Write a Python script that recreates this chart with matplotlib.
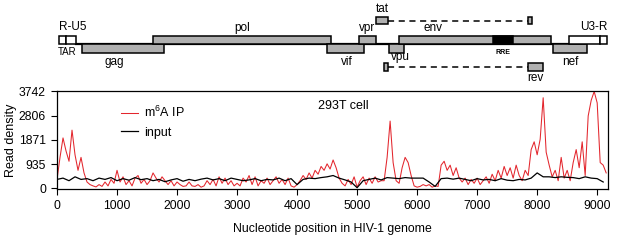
import matplotlib
matplotlib.use('Agg')
import matplotlib.pyplot as plt
import numpy as np
from matplotlib.patches import Rectangle

plt.rcParams['font.family'] = ['Liberation Sans', 'DejaVu Sans']
plt.rcParams['mathtext.fontset'] = 'custom'
plt.rcParams['mathtext.rm'] = 'Liberation Sans'

# ---- read density (m6A IP, 50 nt bins; input, 100 nt bins) ----
ip_pos = np.arange(0, 9200, 50)
ip_vals = [
    350, 1200, 1950, 1450, 1050, 2250, 1300, 700, 1200, 600,
    250, 150, 100, 60, 150, 80, 250, 100, 350, 200,
    700, 250, 450, 150, 300, 100, 400, 500, 200, 350,
    150, 300, 600, 400, 250, 450, 300, 150, 300, 100,
    250, 150, 80, 100, 250, 100, 80, 150, 50, 100,
    300, 150, 350, 100, 450, 200, 400, 150, 300, 100,
    200, 100, 400, 250, 500, 150, 450, 100, 300, 200,
    400, 150, 300, 450, 200, 350, 150, 400, 100, 50,
    150, 300, 500, 350, 600, 400, 700, 550, 850, 700,
    950, 750, 1100, 800, 400, 200, 100, 350, 150, 450,
    50, 300, 450, 150, 400, 200, 450, 250, 300, 300,
    1200, 2600, 1000, 300, 200, 800, 1200, 1000, 500, 100,
    50, 80, 150, 100, 150, 50, 100, 80, 900, 1050,
    700, 900, 500, 800, 400, 250, 400, 150, 350, 200,
    400, 150, 300, 450, 200, 550, 300, 700, 400, 850,
    500, 800, 400, 900, 500, 300, 700, 500, 1500, 1800,
    1300, 1900, 3500, 1400, 900, 450, 700, 300, 1200, 400,
    700, 300, 1000, 1500, 800, 1800, 500, 2800, 3400, 3742,
    3300, 1000, 900, 600,
]
input_pos = np.arange(0, 9200, 100)
input_vals = [
    350, 400, 300, 450, 350, 380, 300, 400, 350, 420,
    300, 380, 320, 420, 340, 380, 300, 350, 260, 330,
    380, 280, 350, 300, 360, 400, 330, 380, 300, 400,
    350, 300, 330, 380, 300, 350, 330, 400, 300, 380,
    150, 350, 400, 380, 420, 450, 500, 400, 330, 250,
    30, 300, 350, 400, 330, 420, 400, 380, 420, 400,
    400, 400, 250, 80, 380, 400, 360, 400, 350, 300,
    380, 330, 350, 300, 380, 320, 300, 350, 330, 400,
    600, 450, 450, 420, 450, 430, 420, 380, 450, 400,
    380, 250,
]
y_ticks = [0, 935, 1871, 2806, 3742]
x_ticks = [0, 1000, 2000, 3000, 4000, 5000, 6000, 7000, 8000, 9000]
genome_len = 9180

# ---- genome map (nt coordinates) ----
gene_names = ['gag', 'pol', 'vif', 'vpr', 'vpu', 'env', 'nef']
gene_start = [420, 1600, 4500, 5030, 5530, 5700, 8270]
gene_end = [1780, 4570, 5120, 5320, 5780, 8230, 8830]
gene_row = ['low', 'up', 'low', 'up', 'low', 'up', 'low']
gene_label_x = [950, 3080, 4830, 5170, 5720, 6270, 8550]
gene_label_y = [62, 28, 62, 28, 57, 28, 62]
ltr5 = (30, 150, 320)      # R-U5 start, TAR split, end
ltr3 = (8530, 9050, 9170)  # U3-R start, split, end
rre = (7270, 7600)
tat_exons = [(5320, 5520), (7850, 7920)]
rev_exons = [(5450, 5520), (7850, 8100)]

fig = plt.figure(figsize=(6.17, 2.40), dpi=100)
ax = fig.add_axes([0.0924, 0.2125, 0.893, 0.4083])
gm = fig.add_axes([0.0924, 0.6458, 0.893, 0.3542])

# density plot
ax.plot(ip_pos, ip_vals, color='#e3262d', lw=0.75, label='m$^6$A IP')
ax.plot(input_pos, input_vals, color='black', lw=0.9, label='input')
ax.set_xlim(0, genome_len)
ax.set_ylim(-20, 3760)
ax.set_xticks(x_ticks)
ax.set_yticks(y_ticks)
ax.tick_params(direction='out', length=4, width=0.8, labelsize=8.8, pad=4)
for s in ax.spines.values():
    s.set_linewidth(0.9)
ax.set_ylabel('Read density', fontsize=9, labelpad=1)
ax.set_xlabel('Nucleotide position in HIV-1 genome', fontsize=8.8, labelpad=8)
ax.legend(loc='upper left', bbox_to_anchor=(0.095, 0.97), frameon=False,
          fontsize=9, handlelength=1.4, handletextpad=0.5, labelspacing=0.5)
ax.text(0.474, 0.85, '293T cell', transform=ax.transAxes, fontsize=9,
        va='center', ha='left')

# genome map, y in pixel rows from top
gm.set_xlim(0, genome_len)
gm.set_ylim(85, 0)
gm.axis('off')
rows = {'up': (36, 44), 'low': (44, 53)}
grey = '#b0b0b0'
gm.plot([ltr5[2], ltr3[0]], [44, 44], color='black', lw=1.6, zorder=1)
for name, s, e, r, lx, ly in zip(gene_names, gene_start, gene_end, gene_row,
                                 gene_label_x, gene_label_y):
    y0, y1 = rows[r]
    gm.add_patch(Rectangle((s, y0), e - s, y1 - y0, fc=grey, ec='black', lw=1.1, zorder=2))
    gm.text(lx, ly, name, fontsize=8.5, ha='center', va='center')
gm.add_patch(Rectangle((rre[0], 36), rre[1] - rre[0], 8, fc='black', ec='black', lw=1.1, zorder=3))
gm.text((rre[0] + rre[1]) / 2, 52, 'RRE', fontsize=5, fontweight='bold', ha='center', va='center')
for (a, b, c) in [ltr5, ltr3]:
    gm.add_patch(Rectangle((a, 36), b - a, 8, fc='white', ec='black', lw=1.1, zorder=2))
    gm.add_patch(Rectangle((b, 36), c - b, 8, fc='white', ec='black', lw=1.1, zorder=2))
gm.text(ltr5[0], 27, 'R-U5', fontsize=8.5, ha='left', va='center')
gm.text(ltr5[0] - 10, 52, 'TAR', fontsize=7, ha='left', va='center')
gm.text(ltr3[2], 27, 'U3-R', fontsize=8.5, ha='right', va='center')
# tat and rev exons with splice dashes
for exons, (y0, y1), lab, labpos in [(tat_exons, (17, 24), 'tat', (5417, 9)),
                                      (rev_exons, (63, 71), 'rev', (7970, 78))]:
    for s, e in exons:
        gm.add_patch(Rectangle((s, y0), e - s, y1 - y0, fc=grey, ec='black', lw=1.1, zorder=2))
    gm.plot([exons[0][1], exons[1][0]], [(y0 + y1) / 2] * 2, color='black',
            lw=1.1, ls=(0, (4, 3)), zorder=1)
    gm.text(labpos[0], labpos[1], lab, fontsize=8.5, ha='center', va='center')

fig.savefig('out.png', dpi=100)
